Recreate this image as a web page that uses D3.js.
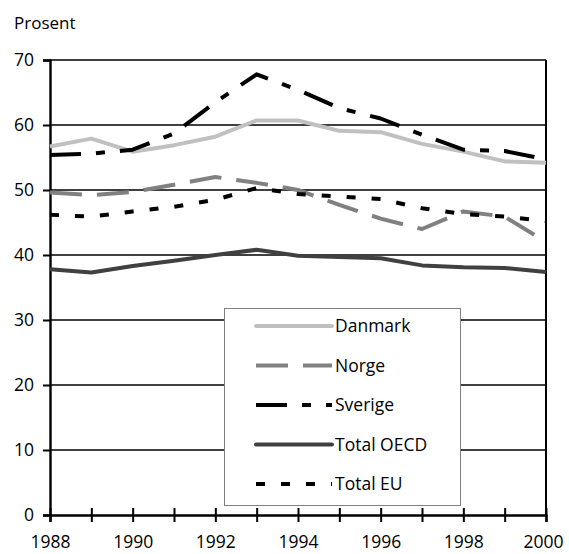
<!DOCTYPE html>
<html>
<head>
<meta charset="utf-8">
<script src="https://cdn.jsdelivr.net/npm/d3@7"></script>
<style>
  body { margin: 0; background: #fff; }
  text { font-family: "Open Sans", "Noto Sans", sans-serif; fill: #000; }
</style>
</head>
<body>
<script>
// ─── DATA ──────────────────────────────────────────────────────────
const years    = [1988, 1989, 1990, 1991, 1992, 1993, 1994, 1995, 1996, 1997, 1998, 1999, 2000];
const danmark  = [56.7, 57.9, 55.9, 56.9, 58.2, 60.7, 60.7, 59.1, 58.9, 57.1, 55.9, 54.4, 54.2];
const norge    = [49.6, 49.2, 49.7, 50.8, 52.0, 51.1, 50.0, 47.7, 45.6, 44.0, 46.7, 45.9, 42.0];
const sverige  = [55.4, 55.6, 56.2, 58.7, 63.5, 67.8, 65.4, 62.6, 61.0, 58.5, 56.2, 56.0, 54.7];
const oecd     = [37.8, 37.3, 38.3, 39.1, 40.0, 40.8, 39.9, 39.7, 39.5, 38.4, 38.1, 38.0, 37.4];
const eu       = [46.2, 45.9, 46.7, 47.4, 48.5, 50.3, 49.4, 49.0, 48.6, 47.2, 46.3, 45.9, 45.2];
const yTicks   = [0, 10, 20, 30, 40, 50, 60, 70];
const xLabels  = [1988, 1990, 1992, 1994, 1996, 1998, 2000];

const series = [
  { name: "Danmark",    values: danmark, color: "#c0c0c0", dash: null },
  { name: "Norge",      values: norge,   color: "#808080", dash: "32,15" },
  { name: "Sverige",    values: sverige, color: "#000000", dash: "31,15,9,15" },
  { name: "Total OECD", values: oecd,    color: "#404040", dash: null },
  { name: "Total EU",   values: eu,      color: "#000000", dash: "9,16" }
];

// ─── LAYOUT ────────────────────────────────────────────────────────
const width = 569, height = 554;
const mLeft = 50, mRight = 546, mTop = 60, mBottom = 515;
const fontSize = 17.5;

const x = d3.scaleLinear().domain([1988, 2000]).range([mLeft, mRight]);
const y = d3.scaleLinear().domain([0, 70]).range([mBottom, mTop]);

const svg = d3.select("body").append("svg")
  .attr("width", width)
  .attr("height", height);

// "Prosent" unit label
svg.append("text")
  .attr("x", 14).attr("y", 28.5)
  .attr("font-size", 17)
  .text("Prosent");

// gridlines (incl. top border)
svg.append("g")
  .selectAll("line")
  .data(yTicks.filter(d => d > 0))
  .join("line")
    .attr("x1", mLeft).attr("x2", mRight)
    .attr("y1", d => y(d)).attr("y2", d => y(d))
    .attr("stroke", "#000")
    .attr("stroke-width", 1.6);

// right border
svg.append("line")
  .attr("x1", mRight).attr("x2", mRight)
  .attr("y1", mTop).attr("y2", mBottom)
  .attr("stroke", "#000")
  .attr("stroke-width", 2);

// y axis
const yAxis = svg.append("g")
  .attr("transform", `translate(${mLeft},0)`)
  .call(d3.axisLeft(y).tickValues(yTicks).tickSize(7).tickPadding(9).tickFormat(d3.format("d")));
yAxis.select(".domain").attr("stroke", "#000").attr("stroke-width", 2.4);
yAxis.selectAll(".tick line").attr("stroke", "#000").attr("stroke-width", 2);
yAxis.selectAll(".tick text")
  .attr("font-size", fontSize)
  .attr("font-family", "Open Sans, Noto Sans, sans-serif")
  .attr("fill", "#000");

// x axis (ticks crossing the axis line)
const xAxis = svg.append("g")
  .attr("transform", `translate(0,${mBottom})`)
  .call(d3.axisBottom(x).tickValues(years).tickSize(7).tickPadding(14).tickFormat(d => xLabels.includes(d) ? d : ""));
xAxis.select(".domain").attr("stroke", "#000").attr("stroke-width", 2.4);
xAxis.selectAll(".tick line")
  .attr("y1", -7)
  .attr("stroke", "#000").attr("stroke-width", 2);
xAxis.selectAll(".tick text")
  .attr("font-size", fontSize)
  .attr("font-family", "Open Sans, Noto Sans, sans-serif")
  .attr("fill", "#000");
// last label is pushed slightly inward, as in the source
xAxis.selectAll(".tick text").filter(d => d === 2000).attr("dx", -3);

// ─── LINES ─────────────────────────────────────────────────────────
const line = d3.line()
  .x((d, i) => x(years[i]))
  .y(d => y(d));

svg.append("g")
  .selectAll("path")
  .data(series)
  .join("path")
    .attr("d", d => line(d.values))
    .attr("fill", "none")
    .attr("stroke", d => d.color)
    .attr("stroke-width", 4)
    .attr("stroke-linejoin", "round")
    .attr("stroke-dasharray", d => d.dash);

// ─── LEGEND ────────────────────────────────────────────────────────
const legend = svg.append("g");
legend.append("rect")
  .attr("x", 224.5).attr("y", 308.5)
  .attr("width", 236).attr("height", 197)
  .attr("fill", "#fff")
  .attr("stroke", "#808080")
  .attr("stroke-width", 1);

const rows = legend.selectAll("g.row")
  .data(series)
  .join("g")
    .attr("class", "row")
    .attr("transform", (d, i) => `translate(0,${326 + i * 39.5})`);

rows.append("line")
  .attr("x1", 256).attr("x2", 332)
  .attr("y1", 0).attr("y2", 0)
  .attr("stroke", d => d.color)
  .attr("stroke-width", 4)
  .attr("stroke-linecap", d => d.dash ? "butt" : "round")
  .attr("stroke-dasharray", d => d.dash);

rows.append("text")
  .attr("x", 335).attr("y", 0)
  .attr("dy", "0.35em")
  .attr("font-size", fontSize)
  .text(d => d.name);
</script>
</body>
</html>
